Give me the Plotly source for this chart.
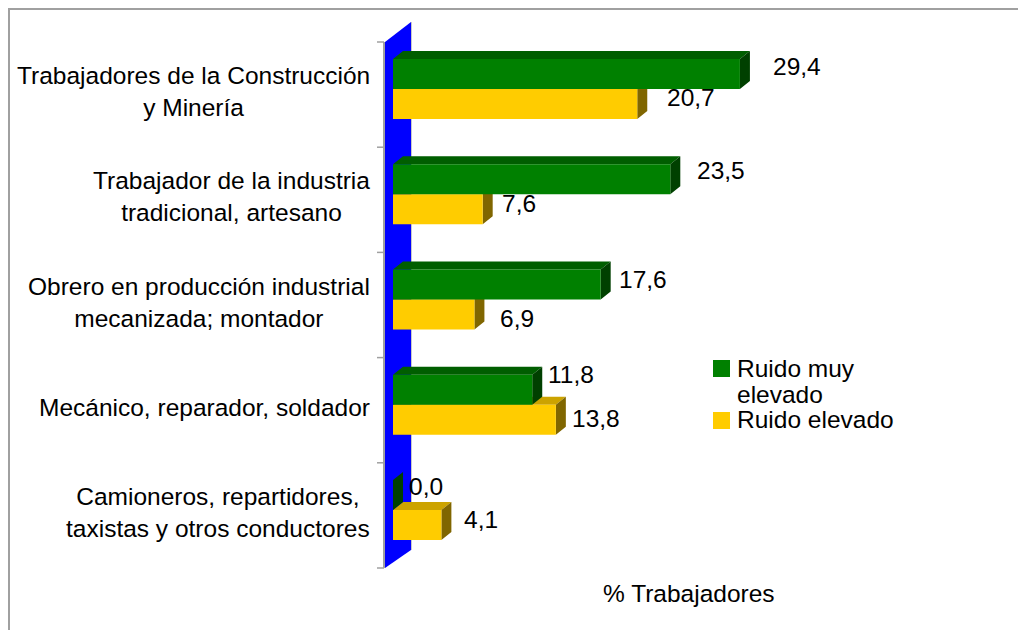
import plotly.graph_objects as go

# ---------------- data ----------------
categories = [
    "Trabajadores de la Construcción<br>y Minería",
    "Trabajador de la industria<br>tradicional, artesano",
    "Obrero en producción industrial<br>mecanizada; montador",
    "Mecánico, reparador, soldador",
    "Camioneros, repartidores,<br>taxistas y otros conductores",
]
series_names = ["Ruido muy elevado", "Ruido elevado"]
legend_lines = [["Ruido muy", "elevado"], ["Ruido elevado"]]
muy_elevado = [29.4, 23.5, 17.6, 11.8, 0.0]
elevado = [20.7, 7.6, 6.9, 13.8, 4.1]
axis_title = "% Trabajadores"

# ---------------- style / geometry ----------------
FONT = "Liberation Sans, Arial, sans-serif"
FS = 24.5
W, H = 1026, 630
PAGE_OFS = 8                     # default page body margin
# plot area in screen pixels
PL, PR, PT, PB = 360, 1006, 18, 572
X0_PX, PX_X = 393, 11.8          # pixel of value 0, pixels per unit
Y0_PX, PX_Y = 42, 105.2          # pixel of first band edge, pixels per band
PW, PH = PR - PL, PB - PT
L, T = PL - PAGE_OFS, PT - PAGE_OFS
R, B = W - (PR - PAGE_OFS), H - (PB - PAGE_OFS)


def xd(px):
    return (px - X0_PX) / PX_X


def yd(py):
    return -0.5 + (py - Y0_PX) / PX_Y


def xp(px):
    return (px - PL) / PW


def yp(py):
    return (PB - py) / PH


BAR_H = 30 / PX_Y
OFF = [-20.5 / PX_Y, 9.5 / PX_Y]
DX, DY = 10 / PX_X, 8 / PX_Y
COL_FRONT = ["#008000", "#FFCC00"]
COL_TOP = ["#005E00", "#CCA300"]
COL_SIDE = ["#004000", "#806600"]
# label nudges in pixels (dx from bar end, dy screen)
LBL_DX = [[31, 25, 16, 14, 14], [28, 17, 24, 14, 21]]
LBL_DY = [[-8, -8.5, -5.5, -15, -8], [-6.5, -6, 3.5, -1, -5]]

fig = go.Figure()


def add_poly(xs, ys, color, name=None):
    fig.add_trace(go.Scatter(x=xs, y=ys, mode="lines", fill="toself",
                             fillcolor=color, line=dict(width=0),
                             name=name, showlegend=False, hoverinfo="skip"))


series = [muy_elevado, elevado]
annotations = []
for s in [1, 0]:
    vals = series[s]
    centers = [k + OFF[s] for k in range(len(categories))]
    fx, fy, tx, ty, sx, sy = [], [], [], [], [], []
    for v, c in zip(vals, centers):
        top, bot = c - BAR_H / 2, c + BAR_H / 2
        fx += [0, v, v, 0, 0, None]
        fy += [top, top, bot, bot, top, None]
        tx += [0, v, v + DX, DX, 0, None]
        ty += [top, top, top - DY, top - DY, top, None]
        sx += [v, v, v + DX, v + DX, v, None]
        sy += [top, bot, bot - DY, top - DY, top, None]
    add_poly(tx, ty, COL_TOP[s])
    add_poly(sx, sy, COL_SIDE[s])
    add_poly(fx, fy, COL_FRONT[s], series_names[s])
    for i, (v, c) in enumerate(zip(vals, centers)):
        annotations.append(dict(
            x=v, y=c, xref="x", yref="y", xanchor="left", yanchor="middle",
            xshift=LBL_DX[s][i], yshift=-LBL_DY[s][i], showarrow=False,
            text=f"{v:.1f}".replace(".", ","),
            font=dict(family=FONT, size=FS, color="black")))

# category labels
for k, cat in enumerate(categories):
    annotations.append(dict(
        x=xp(372), y=k, xref="paper", yref="y", xanchor="right", yanchor="middle",
        align="center", yshift=3, showarrow=False, text=cat,
        font=dict(family=FONT, size=FS, color="black")))

# legend
LEG_Y = [[368, 394], [419]]
for s, lines in enumerate(legend_lines):
    for j, line in enumerate(lines):
        annotations.append(dict(
            x=xp(735), y=yp(LEG_Y[s][j]), xref="paper", yref="paper",
            xanchor="left", yanchor="middle", showarrow=False, text=line,
            font=dict(family=FONT, size=FS, color="black")))

annotations.append(dict(
    x=xp(689), y=yp(593), xref="paper", yref="paper", xanchor="center",
    yanchor="middle", showarrow=False, text=axis_title,
    font=dict(family=FONT, size=FS, color="black")))

shapes = []
# chart border (just inside the figure edge)
shapes.append(dict(type="rect", xref="paper", yref="paper",
                   x0=xp(PAGE_OFS + 1), x1=xp(1040), y0=yp(650), y1=yp(PAGE_OFS + 1),
                   line=dict(color="#A0A0A0", width=2), layer="below"))
# blue wall
wall = [(385, 42), (411, 22), (411, 550), (385, 568)]
path = "M " + " L ".join(f"{xp(a)},{yp(b)}" for a, b in wall) + " Z"
shapes.append(dict(type="path", xref="paper", yref="paper", path=path,
                   fillcolor="#0000FF", line=dict(width=0), layer="below"))
shapes.append(dict(type="line", xref="paper", yref="paper",
                   x0=xp(411.5), x1=xp(411.5), y0=yp(22), y1=yp(550),
                   line=dict(color="#C8C8C8", width=1), layer="below"))
# axis line and ticks
shapes.append(dict(type="line", xref="paper", yref="paper",
                   x0=xp(384), x1=xp(384), y0=yp(42), y1=yp(568),
                   line=dict(color="#A0A0A0", width=2), layer="below"))
for i in range(len(categories) + 1):
    py = Y0_PX + i * PX_Y
    shapes.append(dict(type="line", xref="paper", yref="paper",
                       x0=xp(377), x1=xp(384), y0=yp(py), y1=yp(py),
                       line=dict(color="#A0A0A0", width=1.5), layer="below"))
# legend keys
for s, (y0, y1) in enumerate([(360, 377), (412, 429)]):
    shapes.append(dict(type="rect", xref="paper", yref="paper",
                       x0=xp(713), x1=xp(730), y0=yp(y1), y1=yp(y0),
                       fillcolor=COL_FRONT[s], line=dict(width=0)))

fig.update_layout(
    width=W, height=H, margin=dict(l=L, r=R, t=T, b=B, autoexpand=False),
    paper_bgcolor="white", plot_bgcolor="white",
    xaxis=dict(range=[xd(PL), xd(PR)], visible=False, fixedrange=True),
    yaxis=dict(range=[yd(PB), yd(PT)], visible=False, fixedrange=True),
    showlegend=False, annotations=annotations, shapes=shapes,
    font=dict(family=FONT, size=FS, color="black"),
)

fig.write_html("out.html")
